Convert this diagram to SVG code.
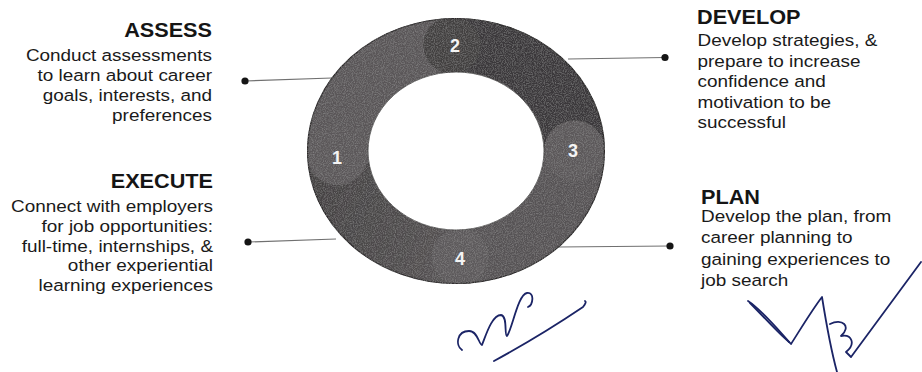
<svg xmlns="http://www.w3.org/2000/svg" width="922" height="372" viewBox="0 0 922 372">
<style>
.title{font-family:"Liberation Sans",Arial,sans-serif;font-weight:bold;font-size:19.7px;fill:#151515}
.body{font-family:"Liberation Sans",Arial,sans-serif;font-size:17.2px;fill:#1a1a1a}
.num{font-family:"Liberation Sans",Arial,sans-serif;font-weight:bold;font-size:18px;fill:#f4f4f4;text-anchor:middle}
.conn{stroke:#707070;stroke-width:1.2;fill:none}
.dot{fill:#151515}
.sig{fill:none;stroke:#1b2466;stroke-width:1.8;stroke-linecap:round;stroke-linejoin:round}
</style>
<defs>
<clipPath id="ring">
<path clip-rule="evenodd" d="M 307 151 A 149 133 0 1 0 605 151 A 149 133 0 1 0 307 151 Z M 368 151 A 88 79 0 1 0 544 151 A 88 79 0 1 0 368 151 Z"/>
</clipPath>
<linearGradient id="g4" gradientUnits="userSpaceOnUse" x1="470" y1="260" x2="320" y2="190">
<stop offset="0" stop-color="#575455"/>
<stop offset="1" stop-color="#454243"/>
</linearGradient>
<filter id="grain" x="0" y="0" width="1" height="1">
<feTurbulence type="fractalNoise" baseFrequency="0.9" numOctaves="2" seed="4" result="n"/>
<feColorMatrix in="n" type="matrix" values="0 0 0 0 0.8  0 0 0 0 0.8  0 0 0 0 0.8  0.35 0 0 0 -0.14" result="s"/>
<feComposite in="s" in2="SourceGraphic" operator="in" result="sp"/>
<feMerge><feMergeNode in="SourceGraphic"/><feMergeNode in="sp"/></feMerge>
</filter>
</defs>
<rect width="922" height="372" fill="#ffffff"/>

<g id="connectors">
<path class="conn" d="M 245 81 L 332 78"/>
<circle class="dot" cx="245" cy="81" r="3.6"/>
<path class="conn" d="M 248 242 L 336 239"/>
<circle class="dot" cx="248" cy="242" r="3.6"/>
<path class="conn" d="M 568 59 L 665 57.5"/>
<circle class="dot" cx="665" cy="57.5" r="3.6"/>
<path class="conn" d="M 558 247 L 670 246"/>
<circle class="dot" cx="670" cy="246" r="3.6"/>
</g>

<g id="cycle" filter="url(#grain)">
<g clip-path="url(#ring)">
<g id="seg-1-body"><path fill="#5a5758" d="M 307.09 155.64 A 149 133 0 0 1 450.80 18.08 L 452.93 72.05 A 88 79 0 0 0 368.05 153.76 Z"/></g>
<g id="seg-2-body"><path fill="#3b393a" d="M 450.80 18.08 A 149 133 0 0 1 605 151 L 544 151 A 88 79 0 0 0 452.93 72.05 Z"/></g>
<g id="seg-3-body"><path fill="#565354" d="M 605 151 A 149 133 0 0 1 461.20 283.92 L 459.07 229.95 A 88 79 0 0 0 544 151 Z"/></g>
<g id="seg-4-body"><path fill="url(#g4)" d="M 461.20 283.92 A 149 133 0 0 1 307.09 155.64 L 368.05 153.76 A 88 79 0 0 0 459.07 229.95 Z"/></g>
<circle fill="#424041" cx="451.9" cy="45.1" r="28.5"/>
<circle fill="#5c595a" cx="574.5" cy="151" r="30.5"/>
<circle fill="#5d5a5b" cx="460.1" cy="256.9" r="28.5"/>
<circle fill="#5c595a" cx="337.6" cy="154.7" r="30.5"/>
</g>
<ellipse cx="456" cy="151" rx="148.5" ry="132.5" fill="none" stroke="#2d2b2c" stroke-width="1.2"/>
<ellipse cx="456" cy="151" rx="88" ry="79" fill="none" stroke="#3a3839" stroke-width="0.8"/>
</g>
<g id="numbers">
<text class="num" x="337" y="163.5">1</text>
<text class="num" x="455" y="51.5">2</text>
<text class="num" x="573" y="156.5">3</text>
<text class="num" x="460" y="264.5">4</text>
</g>

<g id="node-assess" transform="translate(212 0) scale(1.1 1)" text-anchor="end">
<text class="title" x="0" y="37.5">ASSESS</text>
<text class="body" x="0" y="61.5">Conduct assessments</text>
<text class="body" x="0" y="81.5">to learn about career</text>
<text class="body" x="0" y="101.5">goals, interests, and</text>
<text class="body" x="0" y="121.5">preferences</text>
</g>

<g id="node-execute" transform="translate(213 0) scale(1.1 1)" text-anchor="end">
<text class="title" x="0" y="188">EXECUTE</text>
<text class="body" x="0" y="212.5">Connect with employers</text>
<text class="body" x="0" y="232">for job opportunities:</text>
<text class="body" x="0" y="252">full-time, internships, &amp;</text>
<text class="body" x="0" y="271.5">other experiential</text>
<text class="body" x="0" y="291.5">learning experiences</text>
</g>

<g id="node-develop" transform="translate(697 0) scale(1.1 1)">
<text class="title" x="0" y="24">DEVELOP</text>
<text class="body" x="0.5" y="46.5">Develop strategies, &amp;</text>
<text class="body" x="0.5" y="67">prepare to increase</text>
<text class="body" x="0.5" y="87.5">confidence and</text>
<text class="body" x="0.5" y="108">motivation to be</text>
<text class="body" x="0.5" y="128.5">successful</text>
</g>

<g id="node-plan" transform="translate(701 0) scale(1.1 1)">
<text class="title" x="0" y="204">PLAN</text>
<text class="body" x="0" y="222">Develop the plan, from</text>
<text class="body" x="0" y="243.5">career planning to</text>
<text class="body" x="0" y="265">gaining experiences to</text>
<text class="body" x="0" y="286">job search</text>
</g>

<g id="signatures">
<path class="sig" d="M 462 350 C 455 345, 457 331, 469 331 C 478 331, 479 345, 482 345 C 486 335, 492 315, 501 315 C 508 316, 504 336, 507 336 C 512 330, 518 294, 527 293 C 535 292, 533 305, 528 307"/>
<path class="sig" stroke-width="2.2" d="M 494 361 Q 540 336 583 307 Q 587 302 585 301"/>
<path class="sig" d="M 748 301 C 762 310, 780 332, 791 344 C 800 330, 812 310, 822 297 C 826 322, 831 350, 837 372"/>
<path class="sig" stroke-width="1.2" d="M 750 303 C 765 318, 778 333, 789 342"/>
<path class="sig" d="M 830 324 C 842 318, 852 326, 841 336 C 852 334, 856 344, 846 352 L 851 357 L 921 262"/>
</g>
</svg>
